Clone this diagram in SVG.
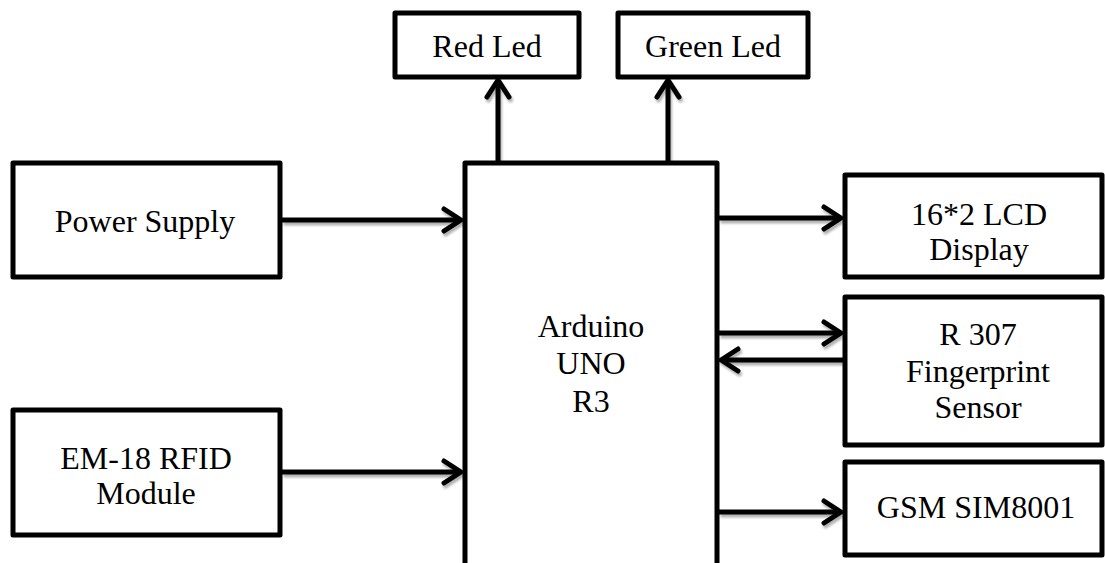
<svg xmlns="http://www.w3.org/2000/svg" width="1105" height="563" viewBox="0 0 1105 563">
<style>
.box{fill:#fff;stroke:#000;stroke-width:5;stroke-linejoin:round}
.lbl{font-family:"Liberation Serif","Times New Roman",serif;font-size:32px;fill:#000;text-anchor:middle}
.wire{stroke:#000;stroke-width:5;fill:none;marker-end:url(#arr)}
</style>
<defs>
<marker id="arr" markerUnits="userSpaceOnUse" markerWidth="40" markerHeight="40" refX="0" refY="0" orient="auto" overflow="visible">
<path d="M-17,-11 L0,0 L-17,11" fill="none" stroke="#000" stroke-width="5" stroke-linecap="round" stroke-linejoin="round"/>
</marker>
<filter id="sh" x="-10%" y="-50%" width="120%" height="200%">
<feDropShadow dx="1.5" dy="3" stdDeviation="1.2" flood-color="#000" flood-opacity="0.3"/>
</filter>
</defs>
<rect width="1105" height="563" fill="#fff"/>
<g id="connectors" filter="url(#sh)">
<path class="wire" d="M498,161 L498,80"/>
<path class="wire" d="M668,161 L668,80"/>
<path class="wire" d="M282,220 L461,220"/>
<path class="wire" d="M282,472 L461,472"/>
<path class="wire" d="M719,218 L841,218"/>
<path class="wire" d="M719,333 L841,333"/>
<path class="wire" d="M843,360 L721,360"/>
<path class="wire" d="M719,512 L841,512"/>
</g>
<g id="red-led"><rect class="box" x="395" y="13" width="184" height="64"/><text class="lbl" x="487" y="57">Red Led</text></g>
<g id="green-led"><rect class="box" x="618" y="13" width="190" height="64"/><text class="lbl" x="713" y="57">Green Led</text></g>
<g id="power-supply"><rect class="box" x="13" y="163" width="267" height="114"/><text class="lbl" x="145" y="232">Power Supply</text></g>
<g id="rfid"><rect class="box" x="13" y="410" width="267" height="125"/><text class="lbl" x="146" y="469">EM-18 RFID</text><text class="lbl" x="146" y="504">Module</text></g>
<g id="arduino"><rect class="box" x="465" y="163" width="252" height="410"/><text class="lbl" x="591" y="337">Arduino</text><text class="lbl" x="591" y="374">UNO</text><text class="lbl" x="591" y="412">R3</text></g>
<g id="lcd"><rect class="box" x="845" y="175" width="257" height="102"/><text class="lbl" x="979" y="225">16*2 LCD</text><text class="lbl" x="979" y="260">Display</text></g>
<g id="fingerprint"><rect class="box" x="845" y="297" width="257" height="148"/><text class="lbl" x="978" y="345">R 307</text><text class="lbl" x="978" y="382">Fingerprint</text><text class="lbl" x="978" y="418">Sensor</text></g>
<g id="gsm"><rect class="box" x="845" y="462" width="257" height="93"/><text class="lbl" x="976" y="518">GSM SIM8001</text></g>
</svg>
